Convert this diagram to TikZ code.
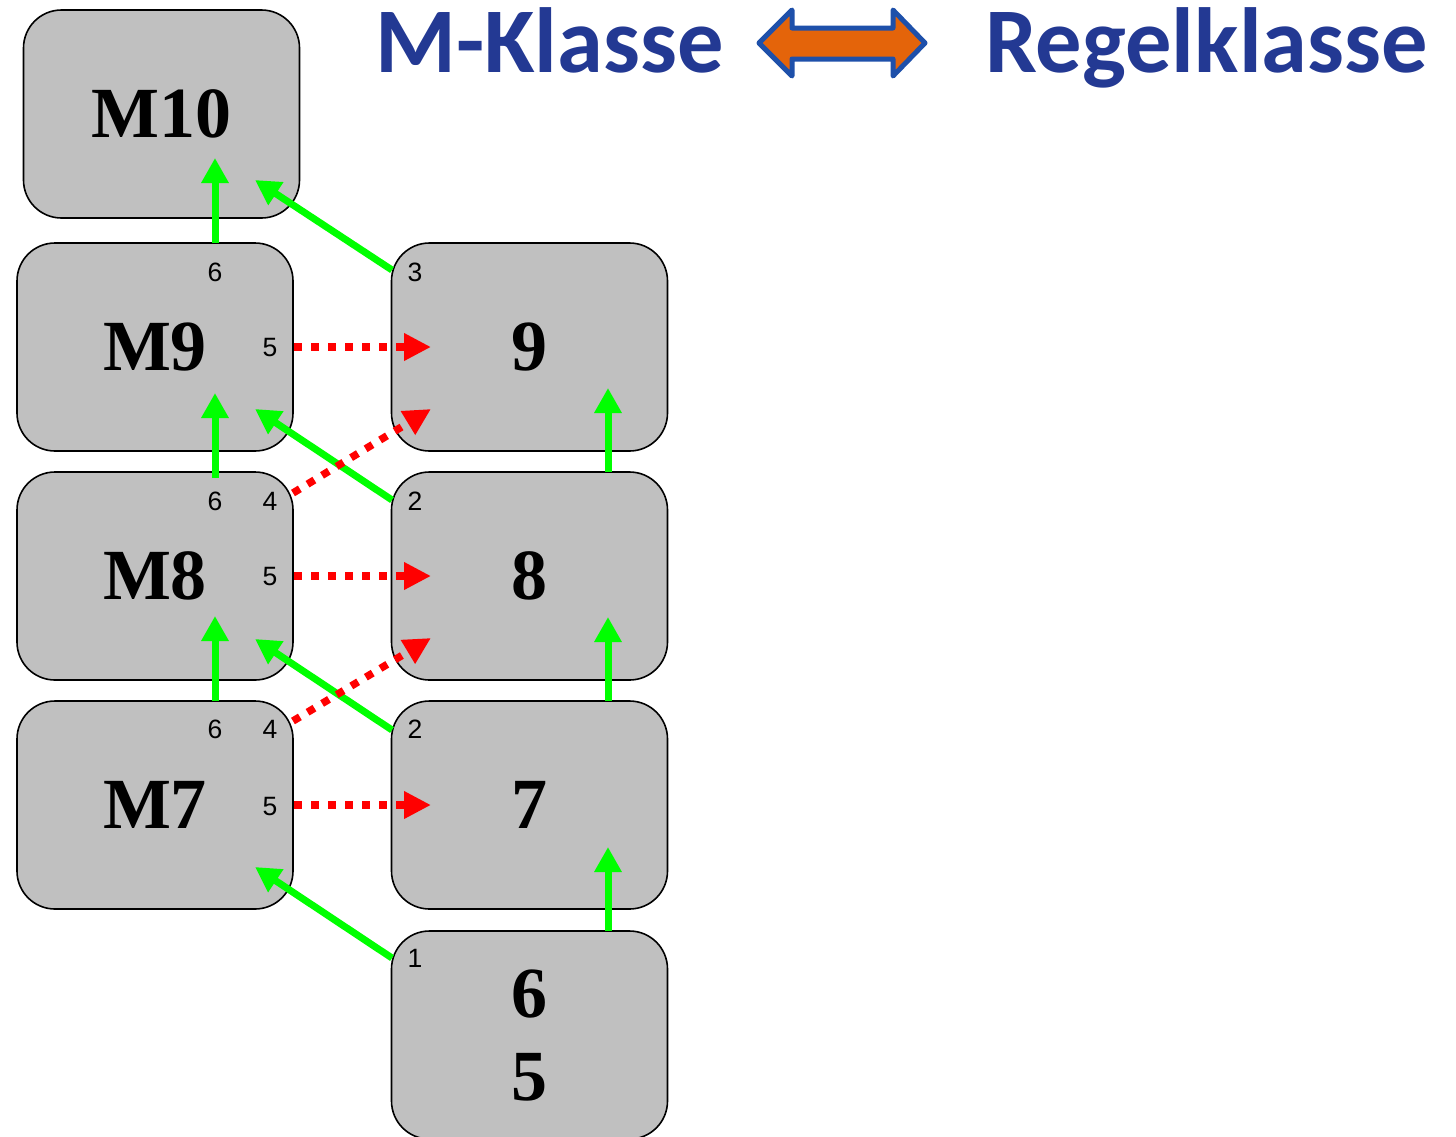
\documentclass[tikz,border=0pt]{standalone}
\usepackage{fontspec}
\setmainfont{Liberation Serif}
\newfontfamily\labfont{Liberation Sans}
\newfontfamily\titfont{Carlito}
\usetikzlibrary{arrows.meta}
\definecolor{boxgray}{RGB}{192,192,192}
\definecolor{titblue}{RGB}{35,57,147}
\definecolor{arrorange}{RGB}{228,100,10}
\definecolor{arrblue}{RGB}{30,80,170}
\definecolor{grn}{RGB}{0,255,0}
\definecolor{rd}{RGB}{255,0,0}
\tikzset{
  mbox/.style={draw=black, line width=1.6pt, fill=boxgray, rounded corners=38pt,
    minimum width=276pt, minimum height=208pt, inner sep=0pt,
    font=\bfseries\fontsize{72}{83}\selectfont, align=center},
  lab/.style={font=\labfont\fontsize{26.5}{26.5}\selectfont, inner sep=0pt},
  garr/.style={draw=grn, line width=7pt, -{Triangle[length=25pt,width=26pt]}},
  rarr/.style={draw=rd, line width=7.5pt, dash pattern=on 8pt off 9pt,
    -{Triangle[length=27pt,width=26pt]}},
  tit/.style={font=\titfont\bfseries\fontsize{92.5}{92.5}\selectfont, text=titblue, inner sep=0pt, anchor=base west}
}
\begin{document}
\begin{tikzpicture}[x=1pt,y=-1pt]
\useasboundingbox (0,0) rectangle (1456,1136);
% boxes
\node[mbox] (m10) at (161.5,114) {M10};
\node[mbox] (m9) at (155,347) {M9};
\node[mbox] (m8) at (155,576) {M8};
\node[mbox] (m7) at (155,805) {M7};
\node[mbox] (r9) at (529.5,347) {9};
\node[mbox] (r8) at (529.5,576) {8};
\node[mbox] (r7) at (529.5,805) {7};
\node[mbox] (r65) at (529.5,1035) {6\\[0pt]5};
% small labels
\node[lab] (l96) at (215,272) {6};
\node[lab] (l95) at (270,348) {5};
\node[lab] (l86) at (215,501) {6};
\node[lab] (l84) at (270,501) {4};
\node[lab] (l85) at (270,577) {5};
\node[lab] (l76) at (215,729) {6};
\node[lab] (l74) at (270,729) {4};
\node[lab] (l75) at (270,806) {5};
\node[lab] (lr3) at (415,272) {3};
\node[lab] (lr2a) at (415,501) {2};
\node[lab] (lr2b) at (415,729) {2};
\node[lab] (lr1) at (415,958) {1};
% arrow end coordinates
\coordinate (a10v) at (215,158);
\coordinate (a10d) at (255,180);
\coordinate (a9v) at (215,393);
\coordinate (a9d) at (255,409);
\coordinate (a8v) at (215,616);
\coordinate (a8d) at (255,639);
\coordinate (a7d) at (255,867);
\coordinate (ar9v) at (608,388);
\coordinate (ar8v) at (608,617);
\coordinate (ar7v) at (608,847);
\coordinate (s9v) at (215,243);
\coordinate (s8v) at (215,478);
\coordinate (s7v) at (215,701);
\coordinate (sr3) at (392,270);
\coordinate (sr2a) at (392,500);
\coordinate (sr2b) at (392,730);
\coordinate (sr1) at (392,958);
\coordinate (sr8v) at (608,472);
\coordinate (sr7v) at (608,701);
\coordinate (sr65v) at (608,931);
% green arrows
\draw[garr] (s9v) -- (a10v);
\draw[garr] (sr3) -- (a10d);
\draw[garr] (s8v) -- (a9v);
\draw[garr] (sr2a) -- (a9d);
\draw[garr] (s7v) -- (a8v);
\draw[garr] (sr2b) -- (a8d);
\draw[garr] (sr1) -- (a7d);
\draw[garr] (sr8v) -- (ar9v);
\draw[garr] (sr7v) -- (ar8v);
\draw[garr] (sr65v) -- (ar7v);
% red dotted arrows
\coordinate (t9) at (431,347);
\coordinate (t8) at (431,576);
\coordinate (t7) at (431,805);
\coordinate (t9d) at (431,409);
\coordinate (t8d) at (431,638);
\coordinate (f95) at (294,347);
\coordinate (f85) at (294,576);
\coordinate (f75) at (294,805);
\coordinate (f84) at (293,493);
\coordinate (f74) at (293,721);
\draw[rarr] (f95) -- (t9);
\draw[rarr] (f85) -- (t8);
\draw[rarr] (f75) -- (t7);
\draw[rarr] (f84) -- (t9d);
\draw[rarr] (f74) -- (t8d);
% title
\node[tit] (tm) at (375,72) {M-Klasse};
\node[tit] (tr) at (985,72) {Regelklasse};
\draw[fill=arrorange, draw=arrblue, line width=5pt, line join=round]
  (759,43) -- (792,10) -- (792,28) -- (893,28) -- (893,10) -- (925,43)
  -- (893,76) -- (893,59) -- (792,59) -- (792,76) -- cycle;
\end{tikzpicture}
\end{document}
